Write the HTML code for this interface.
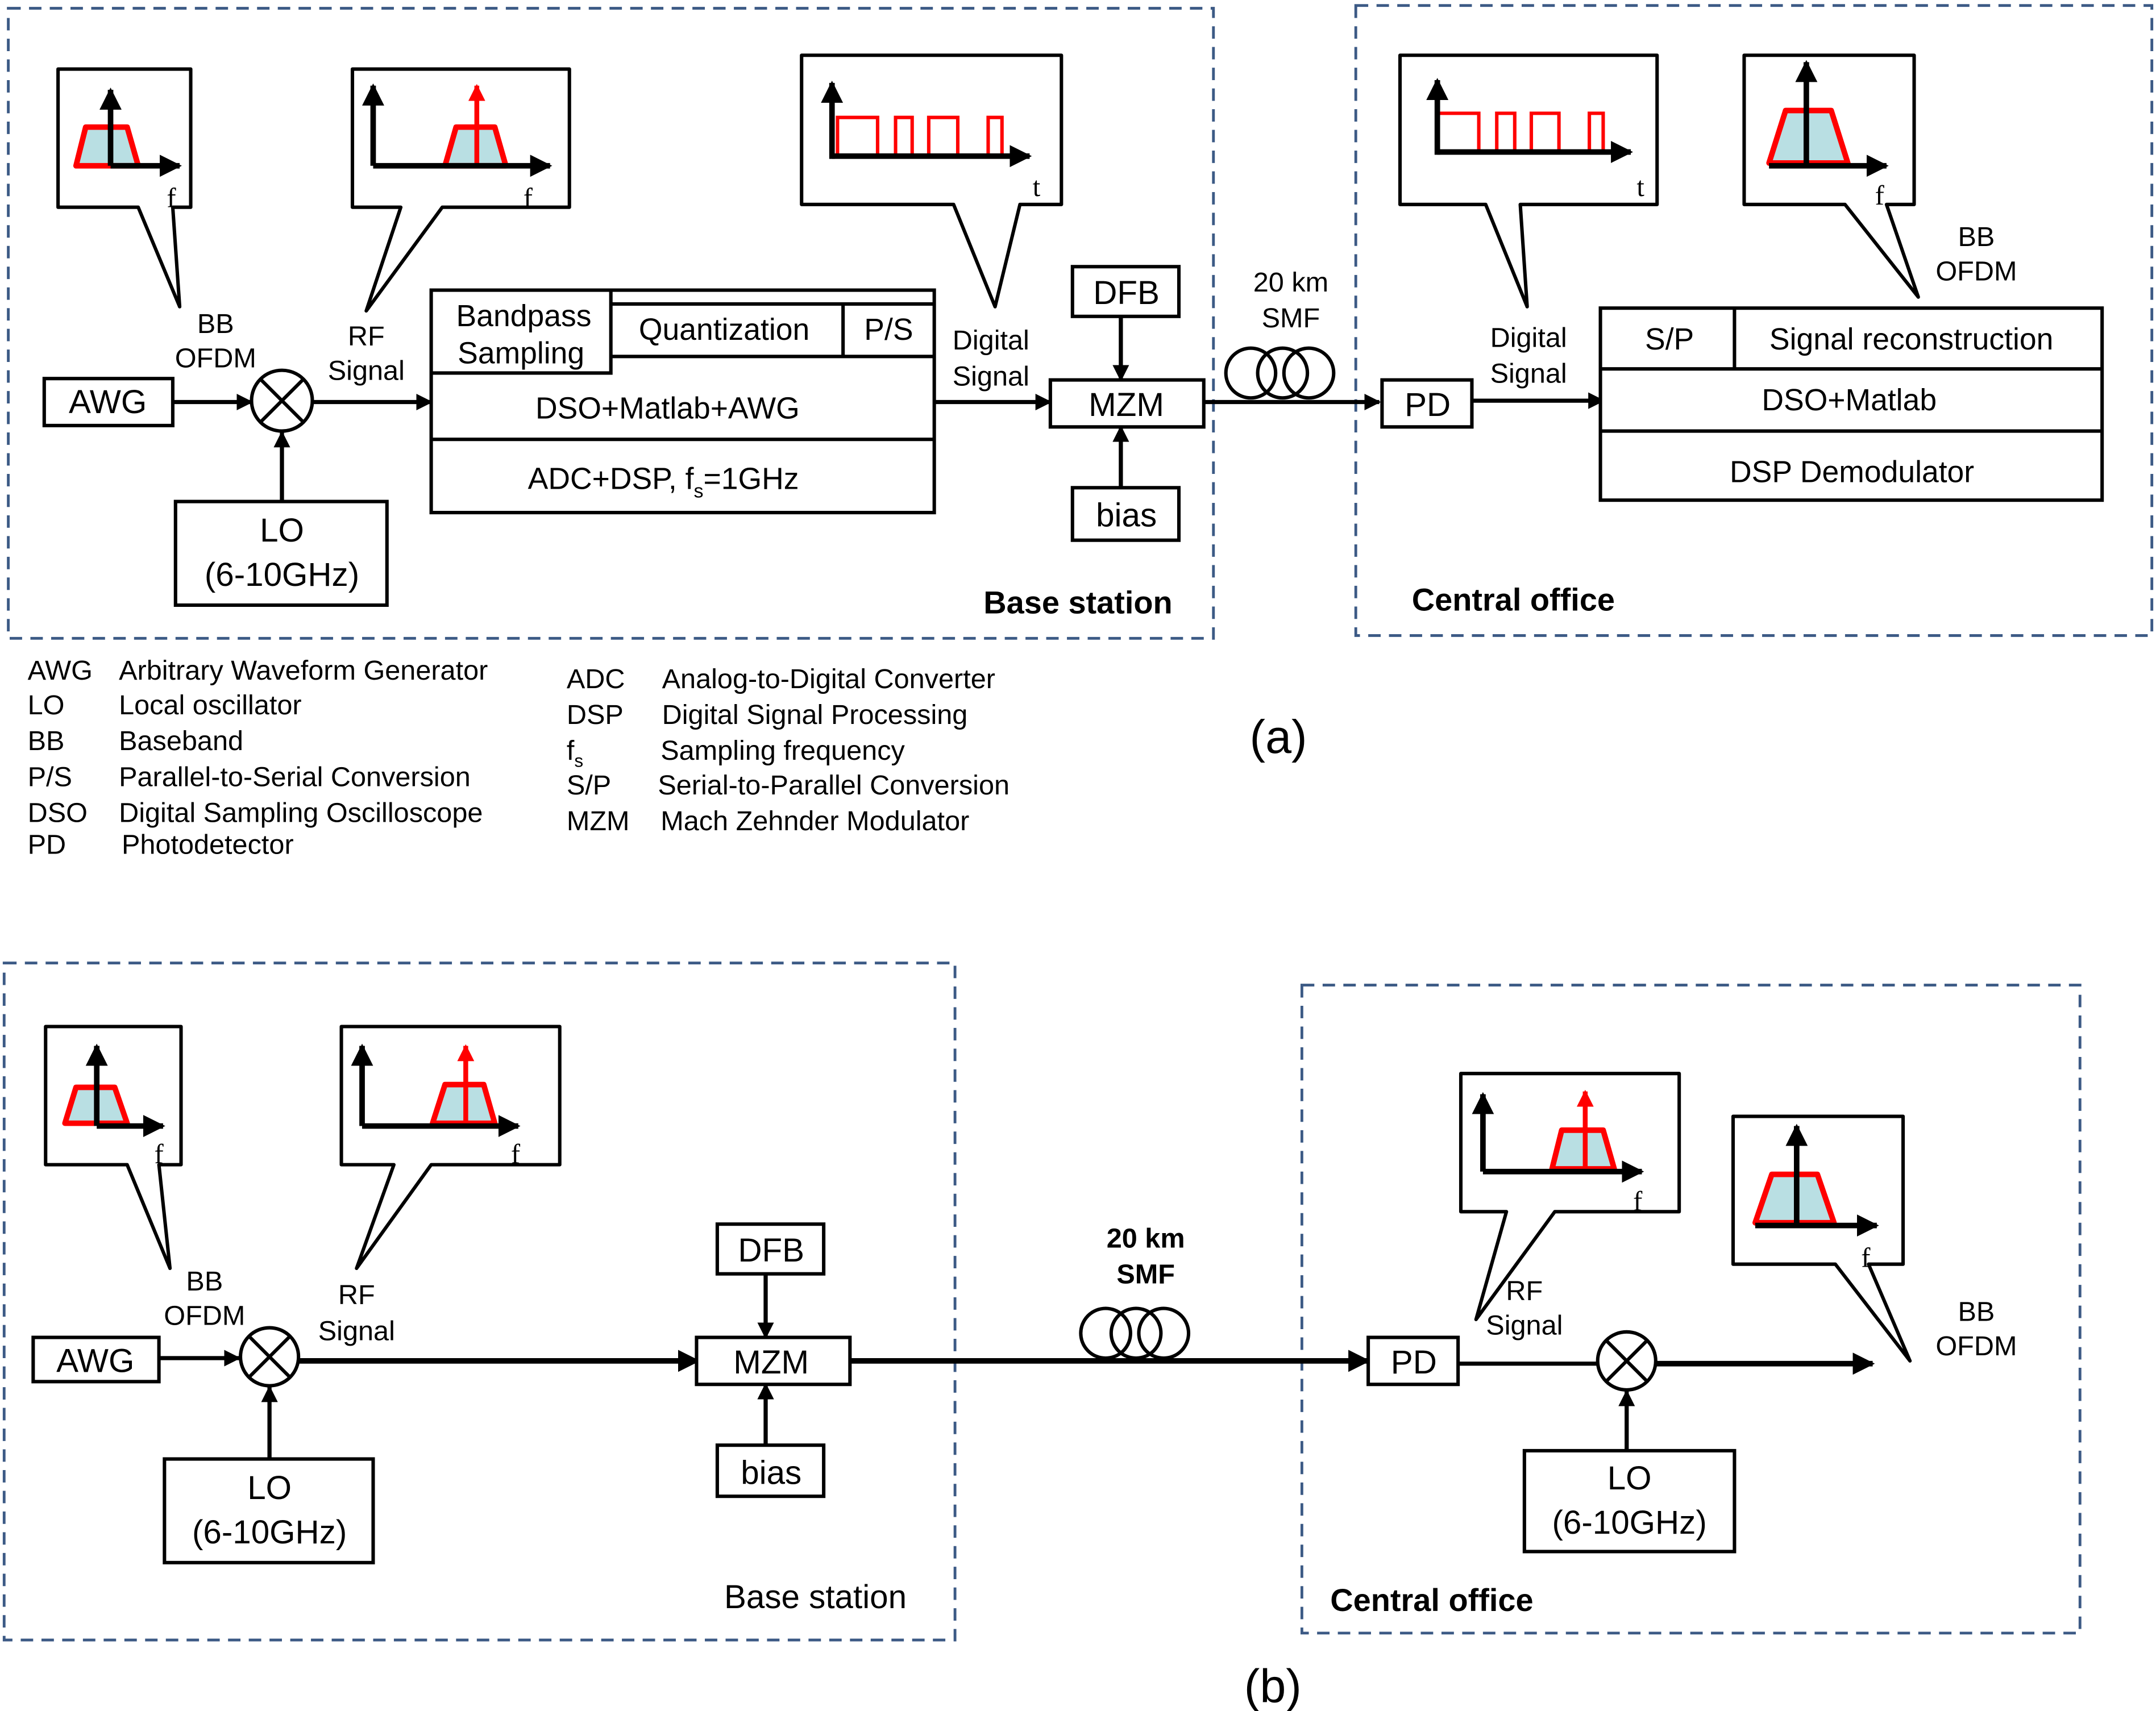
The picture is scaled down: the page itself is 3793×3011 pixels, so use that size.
<!DOCTYPE html>
<html><head><meta charset="utf-8"><style>
html,body{margin:0;padding:0;background:#fff}
svg{display:block}
text{font-family:"Liberation Sans",sans-serif;fill:#000}
.s{font-family:"Liberation Serif",serif}
</style></head><body>
<svg width="3793" height="3011" viewBox="0 0 1560 1238.4" preserveAspectRatio="none" xmlns="http://www.w3.org/2000/svg">
<defs>
<marker id="a" viewBox="0 0 10 10" refX="9" refY="5" markerWidth="4" markerHeight="4" orient="auto"><path d="M0,0L10,5L0,10z" fill="#000"/></marker>
<marker id="r" viewBox="0 0 10 10" refX="9" refY="5" markerWidth="3.5" markerHeight="3.5" orient="auto"><path d="M0,0L10,5L0,10z" fill="red"/></marker>
</defs>
<g fill="none" stroke="#3c5a85" stroke-width="2" stroke-dasharray="9,6">
<rect x="6" y="6" width="872" height="456"/>
<rect x="981" y="4" width="576" height="456"/>
<rect x="3" y="697" width="688" height="490"/>
<rect x="942" y="713" width="563" height="469"/>
</g>
<g fill="#fff" stroke="#000" stroke-width="2.5" stroke-linejoin="round">
<path d="M42,50H138V150H125L130,222L100,150H42Z"/>
<path d="M255,50H412V150H320L265,225L290,150H255Z"/>
<path d="M580,40H768V148H738L720,222L690,148H580Z"/>
<path d="M1013,40H1199V148H1100L1105,222L1075,148H1013Z"/>
<path d="M1262,40H1385V148H1365L1388,215L1335,148H1262Z"/>
<path d="M33,743H131V843H115L123,918L92,843H33Z"/>
<path d="M247,743H405V843H312L258,918L285,843H247Z"/>
<path d="M1057,777H1215V877H1125L1068,955L1090,877H1057Z"/>
<path d="M1254,808H1377V915H1352L1382,985L1328,915H1254Z"/>
</g>
<g stroke="red" stroke-width="4" fill="#b9dfe3" stroke-linejoin="round">
<path d="M55,120L62,92L92,92L100,120Z"/>
<path d="M322,120L330,92L358,92L366,120Z"/>
<path d="M1280,118L1292,80L1325,80L1337,118Z"/>
<path d="M47,813L55,787L83,787L92,813Z"/>
<path d="M313,813L322,785L350,785L358,813Z"/>
<path d="M1123,846L1130,818L1160,818L1168,846Z"/>
<path d="M1270,885L1282,850L1315,850L1327,885Z"/>
</g>
<g stroke="red" stroke-width="3.5" fill="none">
<line x1="345" y1="120" x2="345" y2="62" marker-end="url(#r)"/>
<line x1="337" y1="813" x2="337" y2="757" marker-end="url(#r)"/>
<line x1="1147" y1="846" x2="1147" y2="790" marker-end="url(#r)"/>
<path d="M606,113V85H635V113H648V85H660V113H672V85H693V113H715V85H725V113" stroke-width="2.5"/>
<path d="M1040,110V82H1070V110H1083V82H1096V110H1108V82H1128V110H1150V82H1160V110" stroke-width="2.5"/>
</g>
<g stroke="#000" stroke-width="4" fill="none">
<line x1="80" y1="120" x2="80" y2="65" marker-end="url(#a)"/>
<line x1="80" y1="120" x2="130" y2="120" marker-end="url(#a)"/>
<line x1="270" y1="120" x2="270" y2="62" marker-end="url(#a)"/>
<line x1="270" y1="120" x2="398" y2="120" marker-end="url(#a)"/>
<line x1="602" y1="115" x2="602" y2="60" marker-end="url(#a)"/>
<line x1="602" y1="113" x2="745" y2="113" marker-end="url(#a)"/>
<line x1="1040" y1="112" x2="1040" y2="58" marker-end="url(#a)"/>
<line x1="1040" y1="110" x2="1180" y2="110" marker-end="url(#a)"/>
<line x1="1307" y1="120" x2="1307" y2="45" marker-end="url(#a)"/>
<line x1="1280" y1="120" x2="1365" y2="120" marker-end="url(#a)"/>
<line x1="70" y1="815" x2="70" y2="757" marker-end="url(#a)"/>
<line x1="70" y1="815" x2="118" y2="815" marker-end="url(#a)"/>
<line x1="262" y1="815" x2="262" y2="757" marker-end="url(#a)"/>
<line x1="262" y1="815" x2="375" y2="815" marker-end="url(#a)"/>
<line x1="1073" y1="848" x2="1073" y2="792" marker-end="url(#a)"/>
<line x1="1073" y1="848" x2="1188" y2="848" marker-end="url(#a)"/>
<line x1="1300" y1="887" x2="1300" y2="815" marker-end="url(#a)"/>
<line x1="1270" y1="887" x2="1358" y2="887" marker-end="url(#a)"/>
</g>
<g stroke="#000" stroke-width="3" fill="none">
<line x1="125" y1="291" x2="182" y2="291" marker-end="url(#a)"/>
<line x1="226" y1="291" x2="312" y2="291" marker-end="url(#a)"/>
<line x1="204" y1="363" x2="204" y2="313" marker-end="url(#a)"/>
<line x1="676" y1="291" x2="760" y2="291" marker-end="url(#a)"/>
<line x1="811" y1="229" x2="811" y2="275" marker-end="url(#a)"/>
<line x1="811" y1="353" x2="811" y2="309" marker-end="url(#a)"/>
<line x1="871" y1="291" x2="998" y2="291" marker-end="url(#a)"/>
<line x1="1065" y1="290" x2="1160" y2="290" marker-end="url(#a)"/>
<line x1="115" y1="983" x2="173" y2="983" marker-end="url(#a)"/>
<line x1="216" y1="985" x2="505" y2="985" stroke-width="4" marker-end="url(#a)"/>
<line x1="195" y1="1056" x2="195" y2="1004" marker-end="url(#a)"/>
<line x1="554" y1="922" x2="554" y2="968" marker-end="url(#a)"/>
<line x1="554" y1="1046" x2="554" y2="1002" marker-end="url(#a)"/>
<line x1="615" y1="985" x2="990" y2="985" stroke-width="4" marker-end="url(#a)"/>
<line x1="1055" y1="987" x2="1156" y2="987"/>
<line x1="1198" y1="987" x2="1355" y2="987" stroke-width="4" marker-end="url(#a)"/>
<line x1="1177" y1="1050" x2="1177" y2="1007" marker-end="url(#a)"/>
</g>
<g fill="#fff" stroke="#000" stroke-width="2.5">
<rect x="32" y="274" width="93" height="34"/>
<circle cx="204" cy="290" r="22"/>
<rect x="127" y="363" width="153" height="75"/>
<rect x="312" y="210" width="364" height="161"/>
<rect x="760" y="275" width="111" height="34"/>
<rect x="776" y="193" width="77" height="36"/>
<rect x="776" y="353" width="77" height="38"/>
<rect x="1000" y="275" width="65" height="34"/>
<rect x="1158" y="223" width="363" height="139"/>
<rect x="24" y="968" width="91" height="32"/>
<circle cx="195" cy="982" r="21"/>
<rect x="119" y="1056" width="151" height="75"/>
<rect x="504" y="968" width="111" height="34"/>
<rect x="519" y="886" width="77" height="36"/>
<rect x="519" y="1046" width="77" height="37"/>
<rect x="990" y="968" width="65" height="34"/>
<circle cx="1177" cy="985" r="21"/>
<rect x="1103" y="1050" width="152" height="73"/>
</g>
<g stroke="#000" stroke-width="2.5" fill="none">
<path d="M312,270H442V210M442,220H676M442,258H676M610,220V258M312,318H676"/>
<path d="M1158,267H1521M1255,223V267M1158,312H1521"/>
<path d="M188,274L220,306M220,274L188,306M180,967L210,997M210,967L180,997M1162,970L1192,1000M1192,970L1162,1000"/>
<circle cx="905" cy="270" r="18"/><circle cx="928" cy="270" r="18"/><circle cx="947" cy="270" r="18"/>
<circle cx="800" cy="965" r="18"/><circle cx="822" cy="965" r="18"/><circle cx="842" cy="965" r="18"/>
</g>
<g font-size="21" text-anchor="middle">
<text class="s" x="124" y="150" font-size="20">f</text>
<text class="s" x="382" y="150" font-size="20">f</text>
<text class="s" x="750" y="142" font-size="20">t</text>
<text class="s" x="1187" y="142" font-size="20">t</text>
<text class="s" x="1360" y="148" font-size="20">f</text>
<text class="s" x="115" y="842" font-size="20">f</text>
<text class="s" x="373" y="842" font-size="20">f</text>
<text class="s" x="1185" y="876" font-size="20">f</text>
<text class="s" x="1350" y="917" font-size="20">f</text>
<text x="156" y="241" font-size="20">BB</text><text x="156" y="266" font-size="20">OFDM</text>
<text x="265" y="250" font-size="20">RF</text><text x="265" y="275" font-size="20">Signal</text>
<text x="78" y="299" font-size="24">AWG</text>
<text x="204" y="392" font-size="24">LO</text><text x="204" y="424" font-size="24">(6-10GHz)</text>
<text x="379" y="236" font-size="22">Bandpass</text><text x="377" y="263" font-size="22">Sampling</text>
<text x="524" y="246" font-size="22">Quantization</text>
<text x="643" y="246" font-size="22">P/S</text>
<text x="483" y="303" font-size="22">DSO+Matlab+AWG</text>
<text x="480" y="354" font-size="22">ADC+DSP, f<tspan font-size="14" dy="6">s</tspan><tspan dy="-6">=1GHz</tspan></text>
<text x="717" y="253" font-size="20">Digital</text><text x="717" y="279" font-size="20">Signal</text>
<text x="815" y="301" font-size="24">MZM</text>
<text x="815" y="220" font-size="24">DFB</text>
<text x="815" y="381" font-size="24">bias</text>
<text x="934" y="211" font-size="20">20 km</text><text x="934" y="237" font-size="20">SMF</text>
<text x="1033" y="301" font-size="24">PD</text>
<text x="1106" y="251" font-size="20">Digital</text><text x="1106" y="277" font-size="20">Signal</text>
<text x="1208" y="253" font-size="22">S/P</text>
<text x="1383" y="253" font-size="22">Signal reconstruction</text>
<text x="1338" y="297" font-size="22">DSO+Matlab</text>
<text x="1340" y="349" font-size="22">DSP Demodulator</text>
<text x="1430" y="178" font-size="20">BB</text><text x="1430" y="203" font-size="20">OFDM</text>
<text x="780" y="444" font-size="23" font-weight="bold">Base station</text>
<text x="1095" y="442" font-size="23" font-weight="bold">Central office</text>
<text x="925" y="545" font-size="34">(a)</text>
<text x="148" y="934" font-size="20">BB</text><text x="148" y="959" font-size="20">OFDM</text>
<text x="258" y="944" font-size="20">RF</text><text x="258" y="970" font-size="20">Signal</text>
<text x="69" y="993" font-size="24">AWG</text>
<text x="195" y="1085" font-size="24">LO</text><text x="195" y="1117" font-size="24">(6-10GHz)</text>
<text x="558" y="994" font-size="24">MZM</text>
<text x="558" y="913" font-size="24">DFB</text>
<text x="558" y="1074" font-size="24">bias</text>
<text x="829" y="903" font-size="20" font-weight="bold">20 km</text><text x="829" y="929" font-size="20" font-weight="bold">SMF</text>
<text x="1023" y="994" font-size="24">PD</text>
<text x="1103" y="941" font-size="20">RF</text><text x="1103" y="966" font-size="20">Signal</text>
<text x="1179" y="1078" font-size="24">LO</text><text x="1179" y="1110" font-size="24">(6-10GHz)</text>
<text x="1430" y="956" font-size="20">BB</text><text x="1430" y="981" font-size="20">OFDM</text>
<text x="590" y="1164" font-size="24">Base station</text>
<text x="1036" y="1166" font-size="23" font-weight="bold">Central office</text>
<text x="921" y="1232" font-size="34">(b)</text>
</g>
<g font-size="20">
<text x="20" y="492">AWG</text><text x="86" y="492">Arbitrary Waveform Generator</text>
<text x="20" y="517">LO</text><text x="86" y="517">Local oscillator</text>
<text x="20" y="543">BB</text><text x="86" y="543">Baseband</text>
<text x="20" y="569">P/S</text><text x="86" y="569">Parallel-to-Serial Conversion</text>
<text x="20" y="595">DSO</text><text x="86" y="595">Digital Sampling Oscilloscope</text>
<text x="20" y="618">PD</text><text x="88" y="618">Photodetector</text>
<text x="410" y="498">ADC</text><text x="479" y="498">Analog-to-Digital Converter</text>
<text x="410" y="524">DSP</text><text x="479" y="524">Digital Signal Processing</text>
<text x="410" y="550">f<tspan font-size="13" dy="5">s</tspan></text><text x="478" y="550">Sampling frequency</text>
<text x="410" y="575">S/P</text><text x="476" y="575">Serial-to-Parallel Conversion</text>
<text x="410" y="601">MZM</text><text x="478" y="601">Mach Zehnder Modulator</text>
</g>
</svg>
</body></html>
